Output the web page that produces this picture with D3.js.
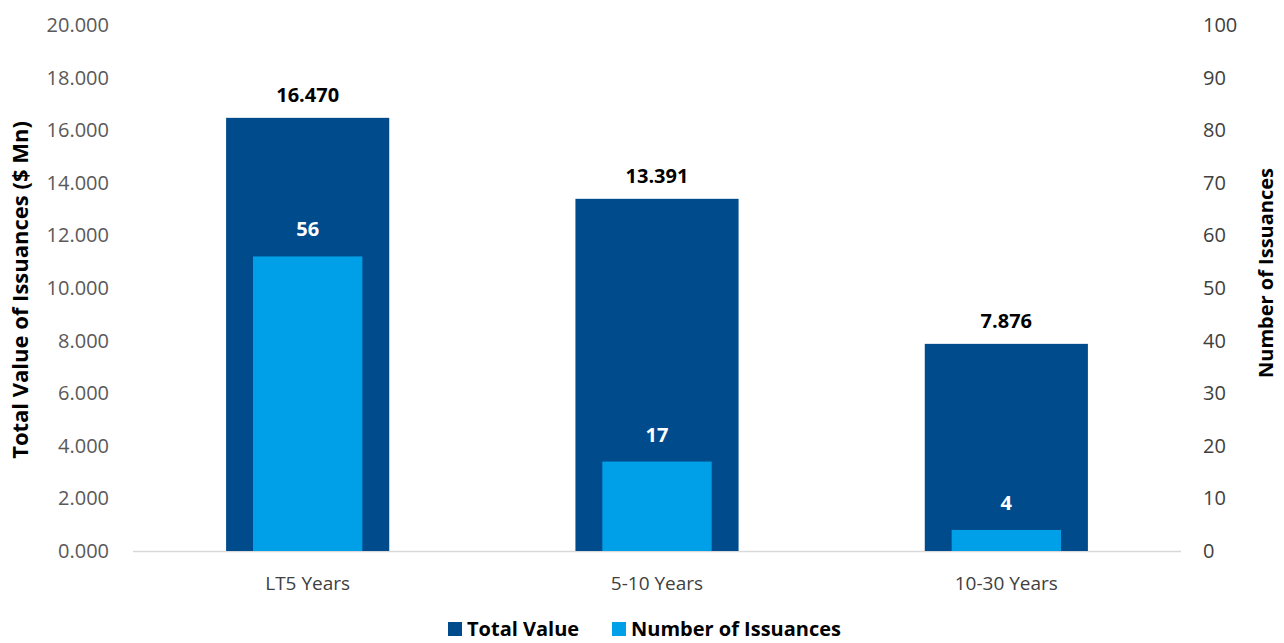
<!DOCTYPE html>
<html>
<head>
<meta charset="utf-8">
<script src="https://cdn.jsdelivr.net/npm/d3@7"></script>
<style>
  html, body { margin: 0; padding: 0; background: #fff; }
  svg { display: block; font-family: "Open Sans", "Noto Sans", sans-serif; }
</style>
</head>
<body>
<svg id="chart" width="1284" height="643"></svg>
<script>
// Issuances by tenor bucket
const categories = ["LT5 Years", "5-10 Years", "10-30 Years"];
const totalValue = [16.470, 13.391, 7.876];       // $ Mn (left axis)
const issuanceCount = [56, 17, 4];                 // count (right axis)
const leftTicks = [0, 2, 4, 6, 8, 10, 12, 14, 16, 18, 20];
const rightTicks = [0, 10, 20, 30, 40, 50, 60, 70, 80, 90, 100];
const seriesNames = ["Total Value", "Number of Issuances"];

const darkBlue = "#004B8C";
const lightBlue = "#00A0E9";

const svg = d3.select("#chart");
const plot = { left: 133, right: 1181, top: 25, bottom: 551 };

const x = d3.scaleBand().domain(categories).range([plot.left, plot.right]).padding(0);
const yLeft = d3.scaleLinear().domain([0, 20]).range([plot.bottom, plot.top]);
const yRight = d3.scaleLinear().domain([0, 100]).range([plot.bottom, plot.top]);

const darkW = x.bandwidth() * 0.467;
const lightW = x.bandwidth() * 0.313;

// Left axis tick labels
svg.append("g").selectAll("text").data(leftTicks).join("text")
  .attr("x", 109).attr("y", d => yLeft(d)).attr("dy", "0.35em")
  .attr("text-anchor", "end").attr("font-size", 20).attr("fill", "#595959")
  .text(d => d3.format(".3f")(d));

// Right axis tick labels
svg.append("g").selectAll("text").data(rightTicks).join("text")
  .attr("x", 1203).attr("y", d => yRight(d)).attr("dy", "0.35em")
  .attr("text-anchor", "start").attr("font-size", 20).attr("fill", "#404040")
  .text(d => d);

// Baseline
svg.append("line")
  .attr("x1", plot.left).attr("x2", plot.right)
  .attr("y1", plot.bottom + 0.5).attr("y2", plot.bottom + 0.5)
  .attr("stroke", "#d9d9d9").attr("stroke-width", 1.5);

const cx = c => x(c) + x.bandwidth() / 2;

// Total value bars
svg.append("g").selectAll("rect").data(categories).join("rect")
  .attr("x", c => cx(c) - darkW / 2)
  .attr("width", darkW)
  .attr("y", (c, i) => yLeft(totalValue[i]))
  .attr("height", (c, i) => yLeft(0) - yLeft(totalValue[i]))
  .attr("fill", darkBlue);

// Issuance count bars
svg.append("g").selectAll("rect").data(categories).join("rect")
  .attr("x", c => cx(c) - lightW / 2)
  .attr("width", lightW)
  .attr("y", (c, i) => yRight(issuanceCount[i]))
  .attr("height", (c, i) => yRight(0) - yRight(issuanceCount[i]))
  .attr("fill", lightBlue);

// Value labels
svg.append("g").selectAll("text").data(categories).join("text")
  .attr("x", cx).attr("y", (c, i) => yLeft(totalValue[i]) - 16)
  .attr("text-anchor", "middle").attr("font-size", 20).attr("font-weight", "bold")
  .attr("fill", "#000")
  .text((c, i) => d3.format(".3f")(totalValue[i]));

svg.append("g").selectAll("text").data(categories).join("text")
  .attr("x", cx).attr("y", (c, i) => yRight(issuanceCount[i]) - 20)
  .attr("text-anchor", "middle").attr("font-size", 20).attr("font-weight", "bold")
  .attr("fill", "#fff")
  .text((c, i) => issuanceCount[i]);

// Category labels
svg.append("g").selectAll("text").data(categories).join("text")
  .attr("x", cx).attr("y", 583).attr("dy", "0.35em")
  .attr("text-anchor", "middle").attr("font-size", 19).attr("fill", "#404040")
  .text(d => d);

// Axis titles
svg.append("text")
  .attr("transform", `translate(28, ${(plot.top + plot.bottom) / 2 + 2}) rotate(-90)`)
  .attr("text-anchor", "middle").attr("font-size", 22).attr("font-weight", "bold")
  .attr("fill", "#000")
  .text("Total Value of Issuances ($ Mn)");

svg.append("text")
  .attr("transform", `translate(1273, 273) rotate(-90)`)
  .attr("text-anchor", "middle").attr("font-size", 20).attr("font-weight", "bold")
  .attr("fill", "#000")
  .text("Number of Issuances");

// Legend
const legend = svg.append("g");
const legendItems = [
  { name: seriesNames[0], color: darkBlue, x: 448 },
  { name: seriesNames[1], color: lightBlue, x: 612 }
];
const li = legend.selectAll("g").data(legendItems).join("g")
  .attr("transform", d => `translate(${d.x}, 622)`);
li.append("rect").attr("width", 14).attr("height", 14).attr("fill", d => d.color);
li.append("text").attr("x", 19).attr("y", 14)
  .attr("font-size", 20).attr("font-weight", "bold").attr("fill", "#000")
  .text(d => d.name);
</script>
</body>
</html>
